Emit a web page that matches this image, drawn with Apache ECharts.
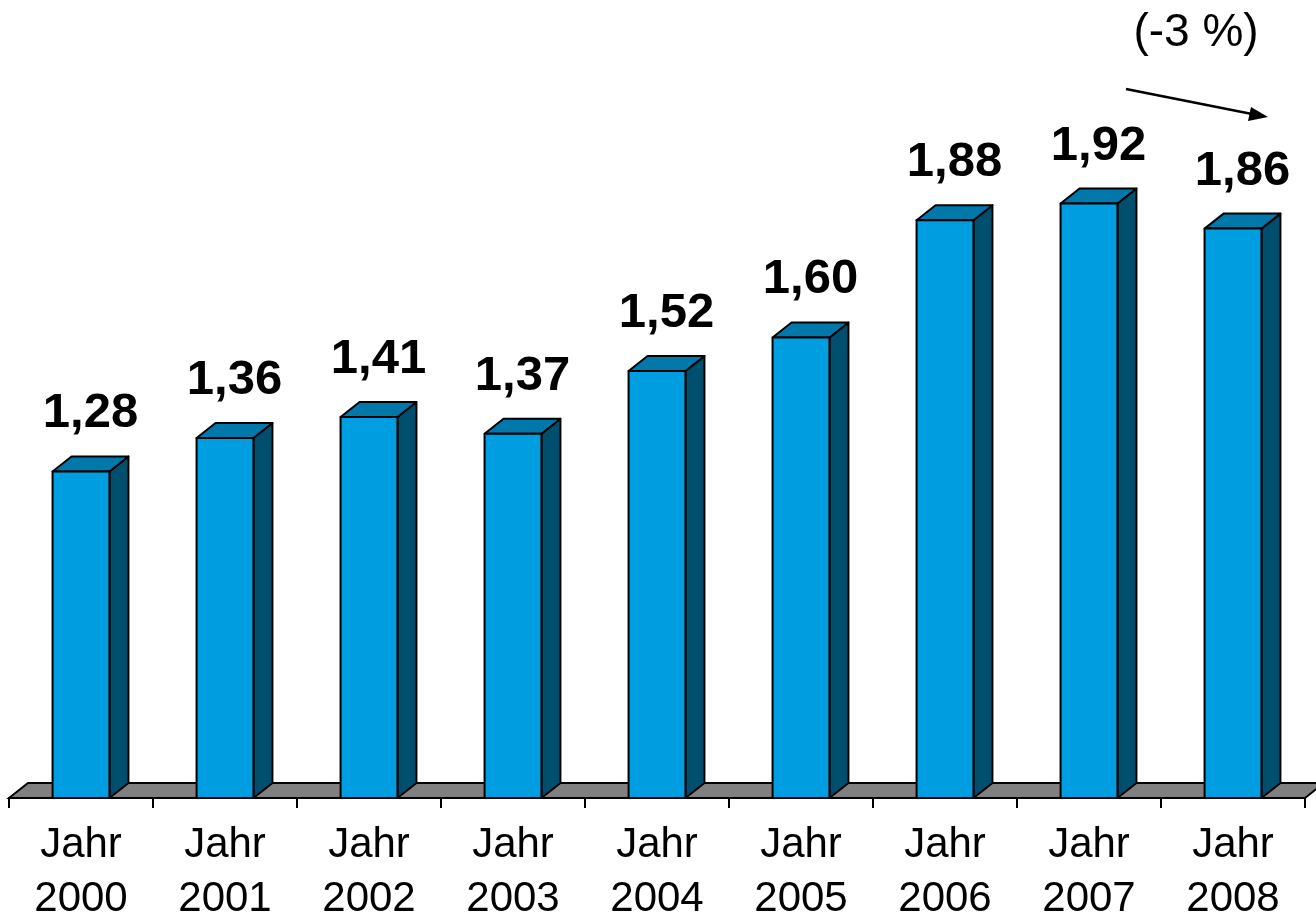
<!DOCTYPE html>
<html>
<head>
<meta charset="utf-8">
<script src="https://cdn.jsdelivr.net/npm/echarts@6/dist/echarts.min.js"></script>
<style>
  html, body { margin: 0; padding: 0; background: #fff; }
  #chart { width: 1316px; height: 914px; }
</style>
</head>
<body>
<div id="chart"></div>
<script>
// data
const years = ['2000', '2001', '2002', '2003', '2004', '2005', '2006', '2007', '2008']
const values = [1.28, 1.36, 1.41, 1.37, 1.52, 1.60, 1.88, 1.92, 1.86]
const changeLabel = '(-3 %)'

const AXIS_MIN = 0.5
const DX = 19
const DY = 15
const FONT = '"Liberation Sans", Arial, sans-serif'

const chart = echarts.init(document.getElementById('chart'))

const renderFloor = (params, api) => {
  const cs = params.coordSys
  const b = cs.y + cs.height
  return {
    type: 'polygon',
    shape: {
      points: [[cs.x, b], [cs.x + DX, b - DY], [cs.x + cs.width + DX, b - DY], [cs.x + cs.width, b]]
    },
    style: { fill: '#808080', stroke: '#000', lineWidth: 2 }
  }
}

const renderBar = (params, api) => {
  const idx = api.value(0)
  const top = api.coord([idx, api.value(1)])
  const base = api.coord([idx, AXIS_MIN])
  const w = api.size([1, 0])[0] * 0.395
  const l = top[0] - w / 2
  const r = top[0] + w / 2
  const t = top[1]
  const b = base[1]
  const stroke = { stroke: '#000', lineWidth: 2, lineJoin: 'round' }
  return {
    type: 'group',
    children: [
      {
        type: 'polygon',
        shape: { points: [[r, t], [r + DX, t - DY], [r + DX, b - DY], [r, b]] },
        style: Object.assign({ fill: '#004f6e' }, stroke)
      },
      {
        type: 'polygon',
        shape: { points: [[l, t], [l + DX, t - DY], [r + DX, t - DY], [r, t]] },
        style: Object.assign({ fill: '#0079aa' }, stroke)
      },
      {
        type: 'rect',
        shape: { x: l, y: t, width: w, height: b - t },
        style: Object.assign({ fill: '#009ee0' }, stroke)
      },
      {
        type: 'text',
        x: top[0] + DX / 2,
        y: t - 33,
        style: {
          text: api.value(1).toFixed(2).replace('.', ','),
          font: 'bold 49px ' + FONT,
          fill: '#000',
          align: 'center',
          verticalAlign: 'bottom'
        }
      }
    ]
  }
}

const option = {
  animation: false,
  grid: { left: 9, right: 11, top: 170, bottom: 116, outerBoundsMode: 'none', containLabel: false },
  xAxis: {
    type: 'category',
    data: years,
    boundaryGap: true,
    axisLine: { show: true, lineStyle: { color: '#000', width: 2 } },
    axisTick: { show: true, length: 10, interval: 0, lineStyle: { color: '#000', width: 2 } },
    axisLabel: {
      interval: 0,
      margin: 20,
      color: '#000',
      fontFamily: FONT,
      fontSize: 42,
      lineHeight: 54,
      formatter: (v) => 'Jahr\n' + v
    }
  },
  yAxis: {
    type: 'value',
    min: AXIS_MIN,
    max: 2.0,
    show: false,
    splitLine: { show: false }
  },
  graphic: [
    {
      type: 'text',
      x: 1196,
      y: 10,
      style: { text: changeLabel, font: '46px ' + FONT, fill: '#000', align: 'center', verticalAlign: 'top' }
    },
    {
      type: 'line',
      shape: { x1: 1126, y1: 89, x2: 1252, y2: 114 },
      style: { stroke: '#000', lineWidth: 2.5 }
    },
    {
      type: 'polygon',
      shape: { points: [[1268, 117], [1248, 121], [1251, 107]] },
      style: { fill: '#000' }
    }
  ],
  series: [
    {
      type: 'custom',
      renderItem: renderFloor,
      data: [[0, AXIS_MIN]],
      z: 1,
      silent: true
    },
    {
      type: 'custom',
      renderItem: renderBar,
      data: values.map((v, i) => [i, v]),
      encode: { x: 0, y: 1 },
      z: 2
    }
  ]
}

chart.setOption(option)
</script>
</body>
</html>
